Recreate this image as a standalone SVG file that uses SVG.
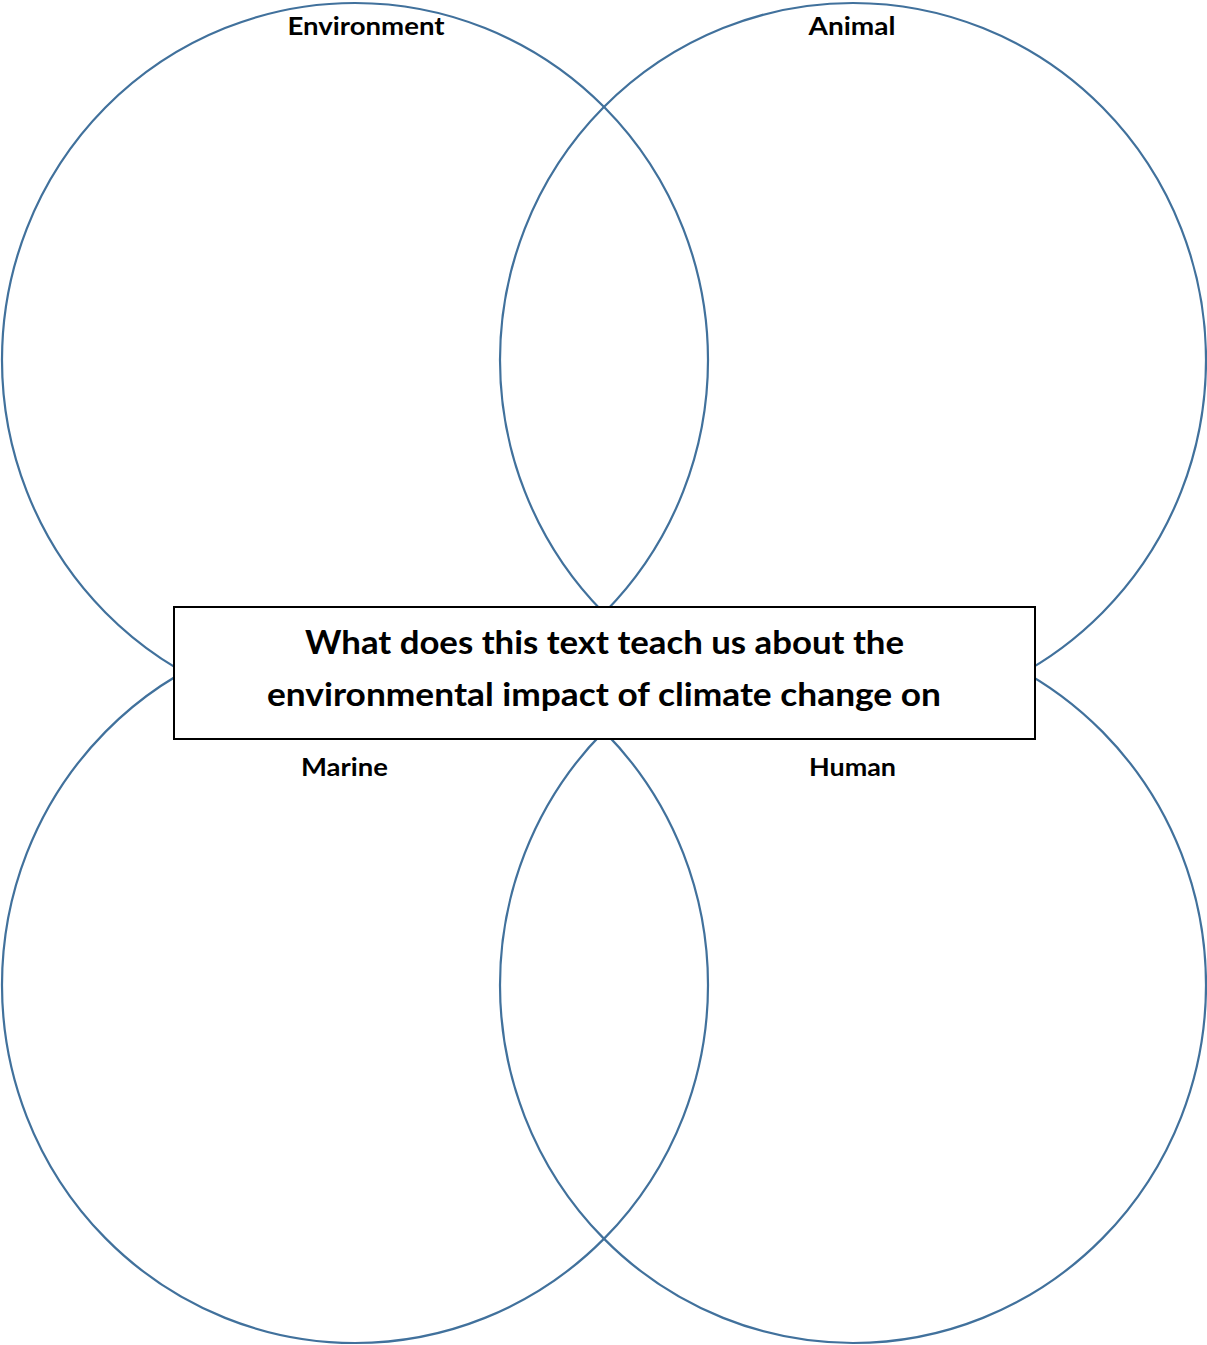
<svg xmlns="http://www.w3.org/2000/svg" width="1207" height="1345" viewBox="0 0 1207 1345">
<style>
.c{fill:none;stroke:#41719C;stroke-width:2.2}
.lbl{font-family:Lato,"Liberation Sans",sans-serif;font-weight:bold;font-size:24px;fill:#000;text-anchor:middle}
.q{font-family:Lato,"Liberation Sans",sans-serif;font-weight:bold;font-size:33px;fill:#000;text-anchor:middle}
</style>
<rect width="1207" height="1345" fill="#fff"/>
<g id="connectors"></g>
<g id="environment"><ellipse class="c" cx="355" cy="360" rx="353" ry="357"/><text class="lbl" x="366" y="35" textLength="157" lengthAdjust="spacingAndGlyphs">Environment</text></g>
<g id="animal"><ellipse class="c" cx="853" cy="360" rx="353" ry="357"/><text class="lbl" x="852" y="35" textLength="87" lengthAdjust="spacingAndGlyphs">Animal</text></g>
<g id="marine"><ellipse class="c" cx="355" cy="985" rx="353" ry="358"/></g>
<g id="human"><ellipse class="c" cx="853" cy="985" rx="353" ry="358"/></g>
<g id="question">
<rect x="174" y="607" width="861" height="132" fill="#fff" stroke="#000" stroke-width="2"/>
<text class="q" x="604.5" y="654" textLength="599" lengthAdjust="spacingAndGlyphs">What does this text teach us about the</text>
<text class="q" x="604" y="706" textLength="674" lengthAdjust="spacingAndGlyphs">environmental impact of climate change on</text>
</g>
<text class="lbl" x="344.5" y="776" textLength="87" lengthAdjust="spacingAndGlyphs">Marine</text>
<text class="lbl" x="852.5" y="776" textLength="87" lengthAdjust="spacingAndGlyphs">Human</text>
</svg>
